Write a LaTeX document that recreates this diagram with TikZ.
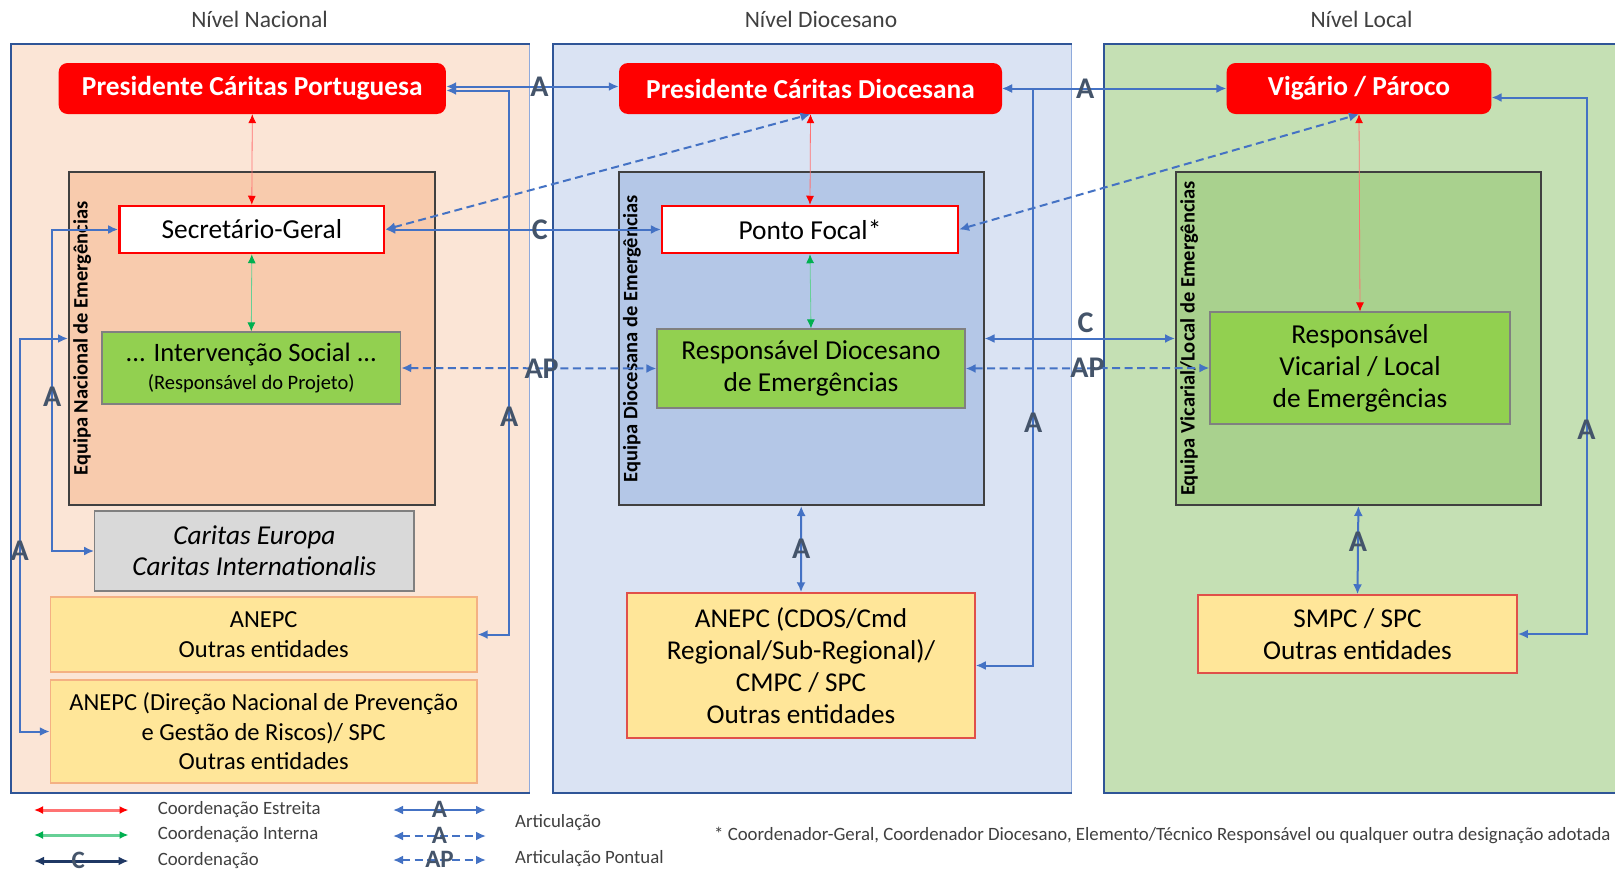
\documentclass[tikz,border=0pt]{standalone}
\usepackage{fontspec}
\setmainfont{Carlito}
\usetikzlibrary{arrows.meta}

\definecolor{azul}{HTML}{4472C4}
\definecolor{azulesc}{HTML}{2F5597}
\definecolor{azulcl}{HTML}{8FAADC}
\definecolor{nacfundo}{HTML}{FBE5D6}
\definecolor{diofundo}{HTML}{DAE3F3}
\definecolor{locfundo}{HTML}{C5E0B4}
\definecolor{nacequipa}{HTML}{F8CBAD}
\definecolor{dioequipa}{HTML}{B4C7E7}
\definecolor{locequipa}{HTML}{A9D18E}
\definecolor{verde}{HTML}{92D050}
\definecolor{verdeseta}{HTML}{00B050}
\definecolor{amarelo}{HTML}{FFE699}
\definecolor{laranja}{HTML}{F4B183}
\definecolor{tijolo}{HTML}{E0504A}
\definecolor{cinza}{HTML}{D9D9D9}
\definecolor{ardosia}{HTML}{44546A}
\definecolor{marinho}{HTML}{1F3864}
\definecolor{escuro}{HTML}{404040}

\begin{document}
\begin{tikzpicture}[x=1pt,y=-1pt,
		caixa/.style={inner sep=0pt,align=center},
		painel/.style={caixa,draw=azulcl,line width=1pt},
		equipa/.style={caixa,draw=escuro,line width=2pt},
		titequipa/.style={rotate=90,anchor=north,inner sep=3pt,font=\fontsize{20.5}{24}\selectfont\bfseries},
		chefe/.style={caixa,fill=red,rounded corners=9pt,text=white,font=\fontsize{27.4}{31}\selectfont\bfseries},
		ponto/.style={caixa,fill=white,draw=red,line width=2.5pt,font=\fontsize{27.4}{30}\selectfont},
		resp/.style={caixa,fill=verde,draw=gray,line width=1.2pt,font=\fontsize{27.4}{32}\selectfont},
		parceiro/.style={caixa,fill=amarelo,draw=laranja,line width=1.5pt,font=\fontsize{24.5}{29.5}\selectfont},
		nivel/.style={text=escuro,font=\fontsize{23.5}{26}\selectfont},
		legenda/.style={text=escuro,inner sep=0pt,font=\fontsize{18.8}{22}\selectfont},
		rotulo/.style={text=ardosia,inner sep=0pt,font=\fontsize{30}{30}\selectfont\bfseries},
		rotleg/.style={rotulo,font=\fontsize{25}{25}\selectfont\bfseries,yshift=1pt},
		estreita/.style={draw=red!55,line width=.8pt,arrows={Latex[color=red,length=9pt,width=8pt]-Latex[color=red,length=9pt,width=8pt]}},
		interna/.style={draw=verdeseta!60,line width=.8pt,arrows={Latex[color=verdeseta,length=9pt,width=8pt]-Latex[color=verdeseta,length=9pt,width=8pt]}},
		art/.style={draw=azul,line width=2pt,arrows={Latex[length=10pt,width=9pt]-Latex[length=10pt,width=9pt]}},
		artp/.style={art,dash pattern=on 8pt off 4.5pt}]

	\fill[white] (0,0) rectangle (1615,873);
	\useasboundingbox (0,0) rectangle (1615,873);

	\node[nivel] at (259.5,19) {Nível Nacional};
	\node[nivel] at (821,19) {Nível Diocesano};
	\node[nivel] at (1361.5,19) {Nível Local};

	\node[painel,fill=nacfundo,minimum width=518,minimum height=748] (nac) at (270.4,418) {};
	\node[painel,fill=diofundo,minimum width=518,minimum height=748] (dio) at (812,418) {};
	\node[painel,fill=locfundo,minimum width=569,minimum height=748] (loc) at (1388.5,418) {};
	\draw[azulesc,line width=2pt] (nac.north east) -- (nac.north west) -- (nac.south west) -- (nac.south east);
	\draw[azulesc,line width=2pt] (dio.north east) -- (dio.north west) -- (dio.south west) -- (dio.south east);
	\draw[azulesc,line width=2pt] (loc.north east) -- (loc.north west) -- (loc.south west) -- (loc.south east);

	\node[equipa,fill=nacequipa,minimum width=365.6,minimum height=333] (nteam) at (251.8,338.5) {};
	\node[equipa,fill=dioequipa,minimum width=364.6,minimum height=333] (dteam) at (801.2,338.5) {};
	\node[equipa,fill=locequipa,minimum width=364.6,minimum height=333] (lteam) at (1358.4,338.5) {};
	\node[titequipa] at ([xshift=2pt]nteam.west) {Equipa Nacional de Emergências};
	\node[titequipa] at ([xshift=2pt]dteam.west) {Equipa Diocesana de Emergências};
	\node[titequipa] at ([xshift=2pt]lteam.west) {Equipa Vicarial/Local de Emergências};

	\node[chefe,minimum width=387.3,minimum height=51] (pcp) at (252.3,88.5) {Presidente Cáritas Portuguesa};
	\node[chefe,minimum width=383,minimum height=51] (pcd) at (810.5,88.5) {Presidente Cáritas Diocesana};
	\node[chefe,minimum width=264.7,minimum height=51] (vig) at (1359,88.5) {Vigário / Pároco};

	\node[ponto,minimum width=264.7,minimum height=47] (sg) at (251.8,229.5) {Secretário-Geral};
	\node[ponto,minimum width=295.6,minimum height=47] (pf) at (810,229.5) {Ponto Focal*};

	\node[resp,minimum width=298.7,minimum height=72,font=\fontsize{26.6}{32}\selectfont] (is) at (251.3,368) {... Intervenção Social ...\\[-4pt]{\fontsize{20.5}{24}\selectfont(Responsável do Projeto)}};
	\node[resp,minimum width=308,minimum height=79] (rde) at (811,368.5) {Responsável Diocesano\\de Emergências};
	\node[resp,minimum width=300,minimum height=112] (rvl) at (1360,368) {Responsável\\Vicarial / Local\\de Emergências};

	\node[caixa,fill=cinza,draw=gray,line width=1.2pt,minimum width=319.3,minimum height=80,font=\fontsize{27.3}{31}\selectfont\itshape] (ce) at (254.4,551) {Caritas Europa\\Caritas Internationalis};
	\node[parceiro,minimum width=426.4,minimum height=75] (an1) at (263.7,634.5) {ANEPC\\Outras entidades};
	\node[parceiro,minimum width=426.4,minimum height=103] (an2) at (263.7,731.5) {ANEPC (Direção Nacional de Prevenção\\e Gestão de Riscos)/ SPC\\Outras entidades};
	\node[parceiro,draw=tijolo,font=\fontsize{27.2}{32}\selectfont,minimum width=348,minimum height=145] (an3) at (801,665.5) {ANEPC (CDOS/Cmd\\Regional/Sub-Regional)/\\CMPC / SPC\\Outras entidades};
	\node[parceiro,draw=tijolo,font=\fontsize{27.2}{32}\selectfont,minimum width=319.3,minimum height=78] (smpc) at (1357.5,634) {SMPC / SPC\\Outras entidades};

	\draw[estreita] (pcp.south) -- (sg.north);
	\draw[interna] (sg.south) -- (is.north);
	\draw[estreita] (pcd.south) -- (pf.north);
	\draw[interna] (pf.south) -- (rde.north);
	\draw[estreita] (vig.south) -- (rvl.north);

	\draw[art] ([yshift=2pt]pcp.east) -- node[rotulo,pos=.54]{A} ([yshift=2pt]pcd.west);
	\draw[art] ([yshift=-2pt]pcp.east) -- ++(63,0) |- node[rotulo,pos=.3]{A} (an1.east);
	\draw[art] (sg.east) -- node[rotulo,pos=.56]{C} (pf.west);
	\draw[artp] (sg.east) -- (pcd.south);
	\draw[artp] (is.east) -- node[rotulo,pos=.55]{AP} (rde.west);
	\draw[art] (sg.west) -- ++(-66,0) |- node[rotulo,pos=.26]{A} (ce.west);
	\draw[art] (nteam.west) -- ++(-48.4,0) |- node[rotulo,pos=.27]{A} (an2.west);

	\draw[art] (pcd.east) -- node[rotulo,pos=.37]{A} (vig.west);
	\draw[art] (pcd.east) -- ++(31,0) |- node[rotulo,pos=.29]{A} (an3.east);
	\draw[artp] (pf.east) -- (vig.south);
	\draw[art] (dteam.east) -- node[rotulo,pos=.53,above=5pt]{C} (lteam.west);
	\draw[artp] (rde.east) -- node[rotulo]{AP} (rvl.west);
	\draw[art] (dteam.south) -- node[rotulo]{A} (an3.north);

	\draw[art] (lteam.south) -- node[rotulo,pos=.4]{A} (smpc.north);
	\draw[art] ([yshift=-9pt]vig.east) -- ++(95,0) |- node[rotulo,pos=.31]{A} (smpc.east);

	\draw[estreita,line width=3pt] (34,810) -- (128.5,810);
	\draw[interna,line width=3pt] (34,835) -- (128.5,835);
	\draw[art,draw=marinho,line width=3pt] (34,861) -- node[rotleg,xshift=-3pt]{C} (128.5,861);
	\node[legenda,anchor=west] at (157.6,810) {Coordenação Estreita};
	\node[legenda,anchor=west] at (157.6,835) {Coordenação Interna};
	\node[legenda,anchor=west] at (157.6,861) {Coordenação};
	\draw[art] (393,810) -- node[rotleg]{A} (486,810);
	\draw[artp] (393,836) -- node[rotleg]{A} (486,836);
	\draw[artp] (393,860) -- node[rotleg]{AP} (486,860);
	\node[legenda,anchor=west] at (515,823) {Articulação};
	\node[legenda,anchor=west] at (515,859) {Articulação Pontual};
	\node[legenda,anchor=west] at (714,835) {* Coordenador-Geral, Coordenador Diocesano, Elemento/Técnico Responsável ou qualquer outra designação adotada};
\end{tikzpicture}
\end{document}
